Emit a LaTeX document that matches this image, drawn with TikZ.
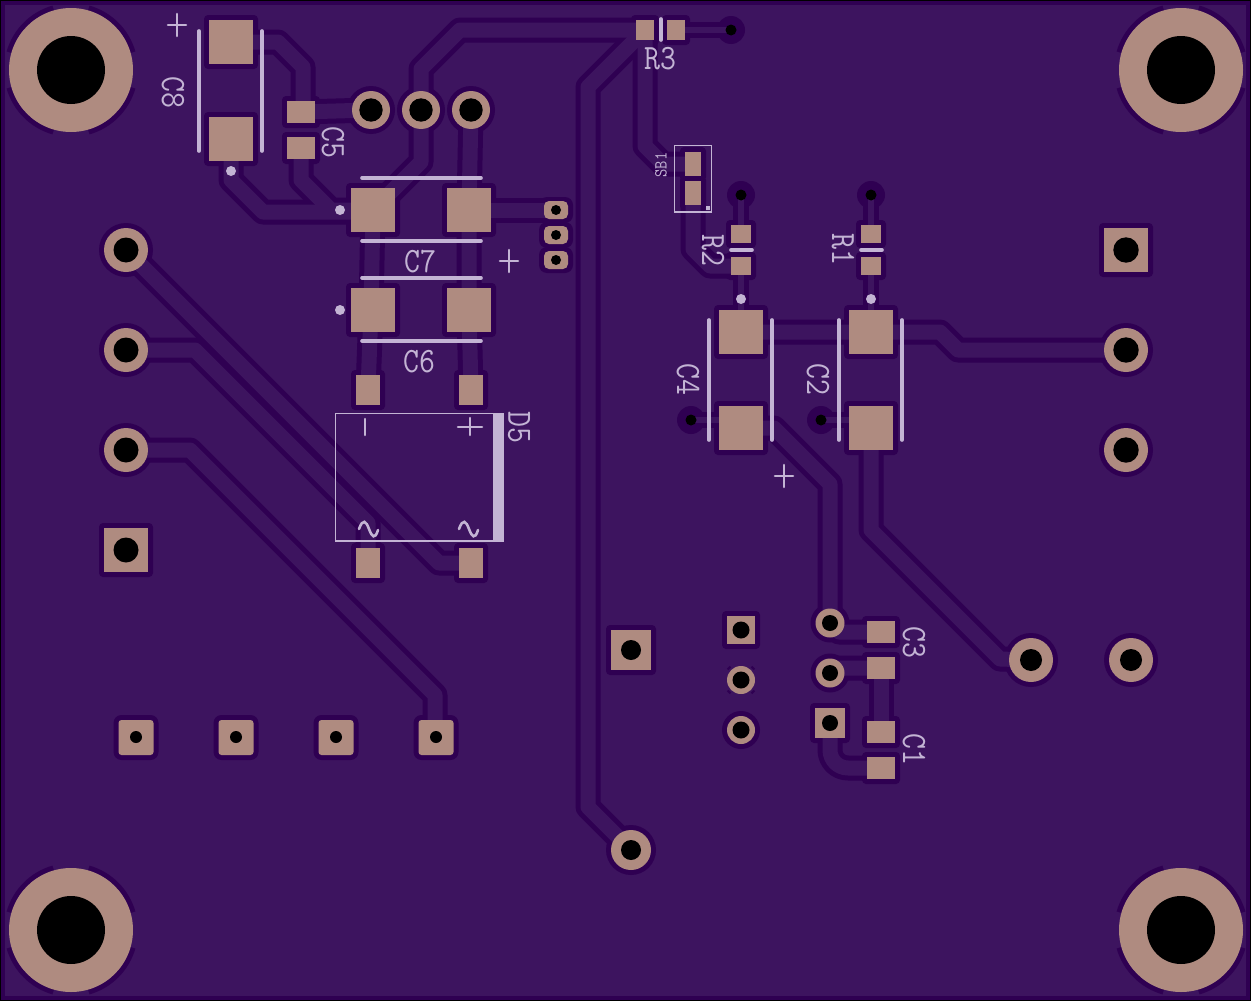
\documentclass[tikz,border=0pt]{standalone}
\usepackage{fontspec}
\usepackage{graphicx}
\definecolor{boardbg}{HTML}{3D145F}
\definecolor{isol}{HTML}{2F0052}
\definecolor{copper}{HTML}{AF8B80}
\definecolor{silk}{HTML}{C3B4D4}
\newcommand{\tallt}[1]{\scalebox{1}[1.15]{#1}}
\tikzset{
  silkline/.style={draw=silk,line width=3.6pt,line cap=round},
  silktext/.style={draw=silk,line width=2.6pt,line cap=round},
  silkthin/.style={draw=silk,line width=1.4pt},
  lbl/.style={text=silk,inner sep=0pt,font=\ttfamily\fontsize{31}{31}\selectfont},
  lblsmall/.style={text=silk,inner sep=0pt,font=\ttfamily\fontsize{16}{16}\selectfont},
  trk/.style={line join=round,line cap=round},
}
\newcommand{\trackset}[3]{%
  \begin{scope}[trk,draw=#3]
  \draw[line width=#1] (126,250)--(439,563)--(471,563);
  \draw[line width=#1] (126,350)--(195,350)--(368,523)--(368,563);
  \draw[line width=#1] (126,450)--(190,450)--(435,695)--(435,738);
  \draw[line width=#1] (421,110)--(421,69)--(460,30)--(645,30);
  \draw[line width=#1] (421,110)--(421,162)--(373,210);
  \draw[line width=#1] (631,850)--(588,807)--(588,87)--(645,30);
  \draw[line width=#1] (645,30)--(645,146)--(663,164)--(693,164);
  \draw[line width=#1] (693,193)--(693,249)--(710,266)--(741,266);
  \draw[line width=#1] (741,332)--(940,332)--(958,350)--(1126,350);
  \draw[line width=#1] (741,428)--(774,428)--(830,484)--(830,623);
  \draw[line width=#1] (871,428)--(871,530)--(1000,659)--(1031,660);
  \draw[line width=#1] (830,623)--(839,632)--(881,632);
  \draw[line width=#1] (830,673)--(835,668)--(881,668);
  \draw[line width=#1] (881,668)--(881,732);
  \draw[line width=#1,rounded corners=18pt] (830,723)--(830,768)--(881,768);
  \draw[line width=#1] (231,42)--(278,42)--(303,67)--(303,112);
  \draw[line width=#1] (301,112)--(371,110);
  \draw[line width=#1] (301,148)--(301,180)--(331,210)--(373,210);
  \draw[line width=#1] (231,139)--(231,180)--(263,212)--(373,212);
  \draw[line width=#1] (469,210)--(556,210);
  \draw[line width=#1] (471,110)--(469,210)--(469,310)--(471,390);
  \draw[line width=#1] (373,210)--(371,310)--(368,390);
  \draw[line width=#2] (676,30)--(731,30);
  \draw[line width=#2] (741,195)--(741,234);
  \draw[line width=#2] (871,195)--(871,234);
  \draw[line width=#2] (741,266)--(741,332);
  \draw[line width=#2] (871,266)--(871,332);
  \draw[line width=#2] (691,420)--(741,420);
  \draw[line width=#2] (821,420)--(871,420);
  \end{scope}}
\newcommand{\padlist}{%
  % left connector
  \padC{126}{250}{22}\padC{126}{350}{22}\padC{126}{450}{22}\padR{126}{550}{44}{44}
  % top pins
  \padC{371}{110}{19}\padC{421}{110}{19}\padC{471}{110}{19}
  \padO{556}{210}{24}{18}\padO{556}{235}{24}{18}\padO{556}{260}{24}{18}
  % C8 C5
  \padR{231}{42}{44}{44}\padR{231}{139}{44}{44}
  \padR{301}{112}{28}{22}\padR{301}{148}{28}{22}
  % C7 C6
  \padR{373}{210}{44}{44}\padR{469}{210}{44}{44}
  \padR{373}{310}{44}{44}\padR{469}{310}{44}{44}
  % D5
  \padR{368}{390}{24}{30}\padR{471}{390}{24}{30}
  \padR{368}{563}{24}{30}\padR{471}{563}{24}{30}
  % bottom row
  \padP{136}{737.5}\padP{236}{737.5}\padP{336}{737.5}\padP{436}{737.5}
  % middle
  \padR{631}{650}{40}{40}\padC{631}{850}{20}
  % R3 SB1 R2 R1
  \padR{645}{30}{18}{20}\padR{676}{30}{18}{20}
  \padR{693}{164}{16}{24}\padR{693}{193}{16}{24}
  \padR{741}{234}{20}{18}\padR{741}{266}{20}{18}
  \padR{871}{234}{20}{18}\padR{871}{266}{20}{18}
  % C4 C2
  \padR{741}{332}{44}{44}\padR{741}{428}{44}{44}
  \padR{871}{332}{44}{44}\padR{871}{428}{44}{44}
  % right connectors
  \padR{1126}{250}{44}{44}\padC{1126}{350}{22}\padC{1126}{450}{22}
  \padC{1031}{660}{22}\padC{1131}{660}{22}
  % lower middle
  \padR{741}{630}{28}{28}\padC{741}{730}{14}
  \padC{830}{623}{14.5}\padC{830}{673}{14.5}\padR{830}{723}{30}{30}
  \padR{881}{632}{28}{22}\padR{881}{668}{28}{22}
  \padR{881}{732}{28}{22}\padR{881}{768}{28}{22}
}
\begin{document}
\begin{tikzpicture}[x=1pt,y=-1pt]
\useasboundingbox (0,0) rectangle (1251,1001);
% board
\fill[black] (0,0) rectangle (1251,1001);
\fill[isol] (1,1) rectangle (1250,1000);
\fill[boardbg] (5,5) rectangle (1246,996);
% isolation
\trackset{25pt}{16pt}{isol}
\def\padC#1#2#3{\fill[isol] (#1,#2) circle ({#3+5});}
\def\padR#1#2#3#4{\fill[isol,rounded corners=4pt] ({#1-#3/2-5},{#2-#4/2-5}) rectangle ({#1+#3/2+5},{#2+#4/2+5});}
\def\padO#1#2#3#4{\fill[isol,rounded corners=8pt] ({#1-#3/2-5},{#2-#4/2-4}) rectangle ({#1+#3/2+5},{#2+#4/2+4});}
\def\padP#1#2{\fill[isol,rounded corners=8pt] ({#1-22.5},{#2-22.5}) rectangle ({#1+22.5},{#2+22.5});}
\padlist
\foreach \vx/\vy in {731/30,741/195,871/195,691/420,821/420}
  \fill[isol] (\vx,\vy) circle (14);
% copper under mask
\trackset{15pt}{6.5pt}{boardbg}
% mounting holes with their relief arcs
\foreach \mx/\my in {71/70,1181/70,71/930,1181/930} {
  \foreach \ma in {16,106,196,286}
    \draw[isol,line width=5pt] (\mx,\my) ++(\ma:64.5) arc[start angle=\ma,end angle=\ma+58,radius=64.5];
  \fill[copper] (\mx,\my) circle (62);
}
% small relief marks round the pad at 741,680
\foreach \ma in {38,128,218,308}
  \draw[isol,line width=2pt] (741,680) ++(\ma:17) arc[start angle=\ma,end angle=\ma+14,radius=17];
\fill[copper] (741,680) circle (14);
% exposed pads
\def\padC#1#2#3{\fill[copper] (#1,#2) circle (#3);}
\def\padR#1#2#3#4{\fill[copper] ({#1-#3/2},{#2-#4/2}) rectangle ({#1+#3/2},{#2+#4/2});}
\def\padO#1#2#3#4{\fill[copper,rounded corners=5pt] ({#1-#3/2},{#2-#4/2}) rectangle ({#1+#3/2},{#2+#4/2});}
\def\padP#1#2{\fill[copper,rounded corners=3pt] ({#1-17.5},{#2-17.5}) rectangle ({#1+17.5},{#2+17.5});}
\padlist
% drills
\foreach \hx/\hy/\hr in {71/70/34,1181/70/34,71/930/34,1181/930/34,
  126/250/12.5,126/350/12.5,126/450/12.5,126/550/12.5,
  371/110/11.7,421/110/11.7,471/110/11.7,
  556/210/5,556/235/5,556/260/5,
  136/737/6,236/737/6,336/737/6,436/737/6,
  631/650/10,631/850/10,
  1126/250/12.7,1126/350/12.7,1126/450/12.7,1031/660/11,1131/660/11,
  741/630/8.5,741/680/8.5,741/730/8.5,830/623/8,830/673/8,830/723/8,
  731/30/5.5,741/195/5.5,871/195/5.5,691/420/5.5,821/420/5.5}
  \fill[black] (\hx,\hy) circle (\hr);
% silk lines
\foreach \sx/\sa/\sb in {199/31/151,262/31/151,709/320/440,772/320/440,839/320/440,902/320/440}
  \draw[silkline] (\sx,\sa)--(\sx,\sb);
\foreach \sy in {178,241,278,341}
  \draw[silkline] (362,\sy)--(481,\sy);
% silk dots
\foreach \dx/\dy in {231/171,340/210,340/310,741/299,871/299}
  \fill[silk] (\dx,\dy) circle (5);
% plus marks
\foreach \px/\py in {177/25,509/261,784/476}
  \draw[silktext] (\px-9,\py)--(\px+9,\py) (\px,\py-11)--(\px,\py+11);
\draw[silktext] (458,427)--(482,427) (470,418)--(470,435);
\draw[silktext] (365,419)--(365,435);
% resistor bars
\draw[silkline] (661,19)--(661,40);
\draw[silkline] (731,250)--(752,250);
\draw[silkline] (861,250)--(882,250);
% SB1
\draw[silkthin] (674.5,145.5) rectangle (711.5,212);
\fill[silk] (706,206) rectangle (710,210);
% D5
\draw[silkthin] (335.5,413.5) rectangle (503,541);
\fill[silk] (493,413) rectangle (503,541.5);
\foreach \tx in {369,469}
  \draw[silktext] (\tx-10,529) .. controls (\tx-6,518) and (\tx-3,521) .. (\tx,529) .. controls (\tx+3,537) and (\tx+6,540) .. (\tx+9,530);
% labels
\node[lbl,rotate=-90] (c8) at (173,92) {\tallt{C8}};
\node[lbl,rotate=-90] (c5) at (333,142) {\tallt{C5}};
\node[lbl] (c7) at (420,262) {\tallt{C7}};
\node[lbl] (c6) at (419,362) {\tallt{C6}};
\node[lbl,rotate=-90] (d5) at (519,427) {\tallt{D5}};
\node[lbl] (r3) at (660,59) {\tallt{R3}};
\node[lblsmall,rotate=90] (sb1) at (661,165) {\tallt{SB1}};
\node[lbl,rotate=-90] (r2) at (713,250) {\tallt{R2}};
\node[lbl,rotate=-90] (r1) at (843,249) {\tallt{R1}};
\node[lbl,rotate=-90] (c4) at (688,379) {\tallt{C4}};
\node[lbl,rotate=-90] (c2) at (818,379) {\tallt{C2}};
\node[lbl,rotate=-90] (c3) at (914,642) {\tallt{C3}};
\node[lbl,rotate=-90] (c1) at (914,749) {\tallt{C1}};
\end{tikzpicture}
\end{document}
